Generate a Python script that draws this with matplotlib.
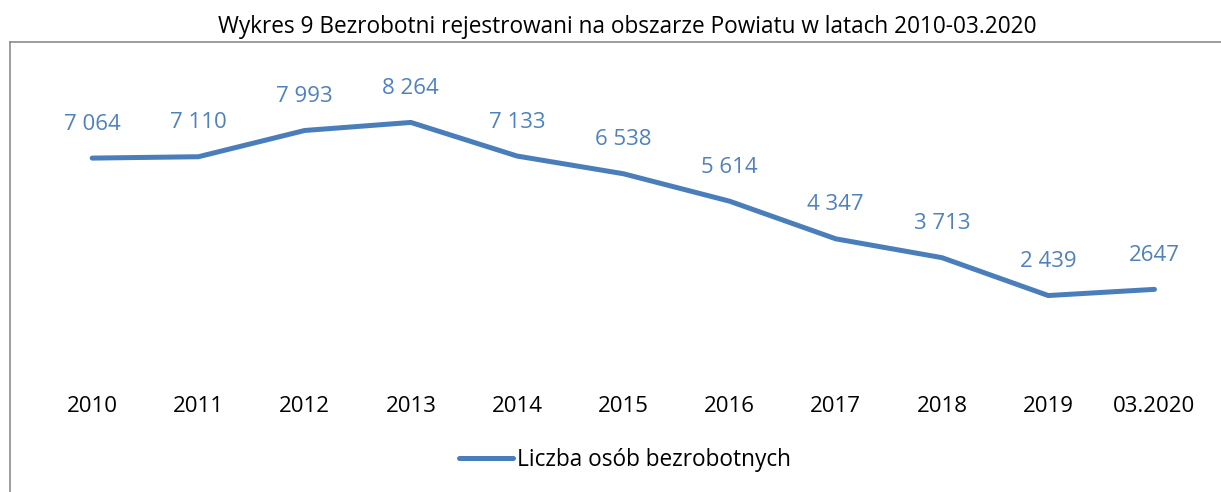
import matplotlib.pyplot as plt
from matplotlib.lines import Line2D

plt.rcParams['font.family'] = ['Open Sans', 'DejaVu Sans']

years = ["2010", "2011", "2012", "2013", "2014", "2015", "2016", "2017", "2018", "2019", "03.2020"]
values = [7064, 7110, 7993, 8264, 7133, 6538, 5614, 4347, 3713, 2439, 2647]
value_labels = ["7 064", "7 110", "7 993", "8 264", "7 133", "6 538", "5 614", "4 347", "3 713", "2 439", "2647"]

blue = '#4A7EBB'
label_blue = '#4F81BD'

fig = plt.figure(figsize=(12.21, 4.92), dpi=100)
ax = fig.add_axes([0.032, 0.252, 0.957, 0.604])

x = list(range(len(years)))
ax.plot(x, values, color=blue, linewidth=3.6, solid_capstyle='round', solid_joinstyle='round')

for xi, v, lab in zip(x, values, value_labels):
    ax.annotate(lab, (xi, v), xytext=(0, 34), textcoords='offset pixels',
                ha='center', va='center', fontsize=16, color=label_blue)

ax.set_xlim(-0.5, len(years) - 0.5)
ax.set_ylim(0, 10000)
ax.set_xticks(x)
ax.set_xticklabels(years, fontsize=16)
ax.tick_params(axis='x', length=0, pad=20)
ax.set_yticks([])
for s in ax.spines.values():
    s.set_visible(False)

# outer chart border (left and top edges visible)
fig.add_artist(Line2D([10 / 1221, 10 / 1221], [0, 1 - 42 / 492], transform=fig.transFigure, color='#8c8c8c', linewidth=1.2))
fig.add_artist(Line2D([10 / 1221, 1], [1 - 42 / 492, 1 - 42 / 492], transform=fig.transFigure, color='#8c8c8c', linewidth=1.2))

fig.text(627 / 1221, 1 - 27 / 492, "Wykres 9 Bezrobotni rejestrowani na obszarze Powiatu w latach 2010-03.2020",
         ha='center', va='center', fontsize=16.3, color='black')

handle = Line2D([], [], color=blue, linewidth=3.6, solid_capstyle='round')
fig.legend([handle], ["Liczba osób bezrobotnych"], loc='center', bbox_to_anchor=(625 / 1221, 1 - 460 / 492),
           frameon=False, fontsize=16.3, handlelength=2.4, handletextpad=0.2)

fig.savefig('out.png', dpi=100)
